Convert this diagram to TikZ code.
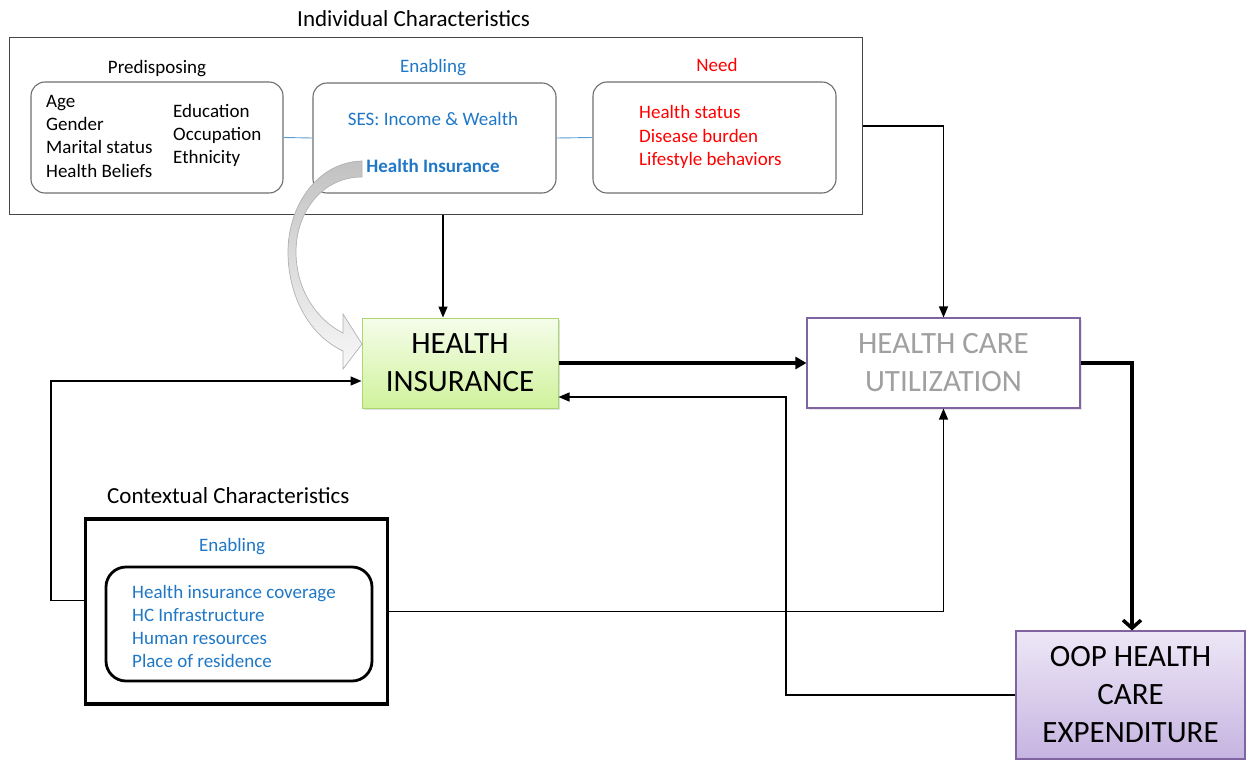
\documentclass[tikz,border=0pt]{standalone}
\usepackage{fontspec}
\setmainfont{Carlito}
\usetikzlibrary{arrows.meta,shadows,calc}
\definecolor{eblue}{RGB}{31,119,198}
\definecolor{nred}{RGB}{255,0,0}
\definecolor{lblue}{RGB}{91,155,213}
\definecolor{boxgray}{RGB}{110,110,110}
\definecolor{framegray}{RGB}{70,70,70}
\definecolor{hcugray}{RGB}{160,160,160}
\definecolor{purp}{RGB}{128,100,162}
\definecolor{higreen}{RGB}{170,215,110}
\definecolor{hitop}{RGB}{245,253,235}
\definecolor{hibot}{RGB}{208,242,155}
\definecolor{ooptop}{RGB}{237,231,246}
\definecolor{oopbot}{RGB}{198,180,225}
\tikzset{
  body/.style={font=\fontsize{19}{23}\selectfont, inner sep=0pt, anchor=base west},
  lab/.style={font=\fontsize{19}{23}\selectfont, inner sep=0pt, anchor=base},
  big/.style={font=\fontsize{31}{38}\selectfont, align=center, inner sep=0pt},
  titletext/.style={font=\fontsize{23}{28}\selectfont, inner sep=0pt, anchor=base west},
  rbox/.style={draw=boxgray, line width=1.1pt, rounded corners=14pt, inner sep=0pt},
  conn/.style={draw=black, line width=1.3pt, -{Triangle[length=11pt,width=9pt]}},
  heavy/.style={draw=black, line width=3.5pt, -{Triangle[length=11pt,width=12pt]}},
  heavybarb/.style={draw=black, line width=3.5pt, -{Straight Barb[length=8pt,width=18pt]}},
  bluelink/.style={draw=lblue, line width=0.9pt}
}
\begin{document}
\begin{tikzpicture}[x=1pt,y=-1pt]
\useasboundingbox (0,0) rectangle (1246,760);

% ---------- Individual characteristics ----------
\node[titletext] (tind) at (297,27) {Individual Characteristics};
\node[draw=framegray, line width=1pt, minimum width=853, minimum height=176, inner sep=0pt] (ind) at (435.5,126) {};

\node[lab] (lpre) at (157,73) {Predisposing};
\node[lab,text=eblue] (lena) at (433,72) {Enabling};
\node[lab,text=nred] (lneed) at (717,71) {Need};

\node[rbox, minimum width=252, minimum height=111] (pre) at (157,137.5) {};
\node[rbox, minimum width=243, minimum height=110] (ena) at (434.5,138) {};
\node[rbox, minimum width=243, minimum height=111] (need) at (714.5,137.5) {};

\draw[bluelink] (pre.east) -- (ena.west);
\draw[bluelink] (ena.east) -- (need.west);

\node[body] (p1) at (46,107) {Age};
\node[body] (p2) at (46,130) {Gender};
\node[body] (p3) at (46,153) {Marital status};
\node[body] (p4) at (46,177) {Health Beliefs};
\node[body] (p5) at (173,117) {Education};
\node[body] (p6) at (173,140) {Occupation};
\node[body] (p7) at (173,163) {Ethnicity};

\node[lab,text=eblue] (ses) at (433,125) {SES: Income \& Wealth};
\node[lab,text=eblue,font=\fontsize{19}{23}\selectfont\bfseries] (hins) at (433,172) {Health Insurance};

\node[body,text=nred] (n1) at (639,118) {Health status};
\node[body,text=nred] (n2) at (639,142) {Disease burden};
\node[body,text=nred] (n3) at (639,165) {Lifestyle behaviors};

% ---------- main boxes ----------
\node[big, draw=higreen, line width=1pt, top color=hitop, bottom color=hibot,
      minimum width=196, minimum height=90,
      drop shadow={shadow xshift=2pt, shadow yshift=-2pt, opacity=0.25}] (hi) at (460,363) {HEALTH\\INSURANCE};

\node[big, text=hcugray, draw=purp, line width=1.1pt, fill=white, minimum width=273, minimum height=90,
      drop shadow={shadow xshift=2pt, shadow yshift=-2pt, opacity=0.2}] (hcu) at (943.5,363) {HEALTH CARE\\UTILIZATION};

\node[big, draw=purp, line width=1.1pt, top color=ooptop, bottom color=oopbot,
      minimum width=229, minimum height=128] (oop) at (1130.5,695) {OOP HEALTH\\CARE\\EXPENDITURE};

% ---------- Contextual characteristics ----------
\node[titletext] (tctx) at (107,503) {Contextual Characteristics};
\node[draw=black, line width=3.3pt, minimum width=302, minimum height=185, inner sep=0pt] (ctx) at (236.5,611.5) {};
\node[lab,text=eblue] (lcen) at (232,551) {Enabling};
\node[draw=black, line width=2.8pt, rounded corners=20pt, minimum width=266, minimum height=114, inner sep=0pt] (cin) at (239,624) {};
\node[body,text=eblue] (c1) at (132,598) {Health insurance coverage};
\node[body,text=eblue] (c2) at (132,621) {HC Infrastructure};
\node[body,text=eblue] (c3) at (132,644) {Human resources};
\node[body,text=eblue] (c4) at (132,667) {Place of residence};

% ---------- connectors ----------
\coordinate (bendoop) at (786,397);
\coordinate (bendctx) at (51,381);

\draw[conn] ([xshift=-17pt]hi.north |- ind.south) -- ([xshift=-17pt]hi.north);
\draw[conn] (ind.east) -| (hcu.north);
\draw[heavy] (hi.east) -- (hcu.west);
\draw[heavybarb] (hcu.east) -| ([xshift=1.5pt]oop.north);
\draw[conn] (oop.west) -| (bendoop) -- (bendoop -| hi.east);
\draw[conn] ([yshift=11pt]ctx.west) -| (bendctx) -- (bendctx -| hi.west);
\draw[conn] (ctx.east) -| (hcu.south);

% ---------- curved block arrow ----------
\path[draw=gray!60, line width=0.7pt, top color=gray!48, bottom color=gray!6]
  (362,161) .. controls (318,162) and (288,205) .. (288,252)
  .. controls (288,296) and (309,335) .. (343,351)
  -- (343,369) -- (362,344) -- (343,314) -- (343,333)
  .. controls (317,320) and (296,290) .. (296,252)
  .. controls (296,212) and (322,177) .. (362,177) -- cycle;
\end{tikzpicture}
\end{document}
